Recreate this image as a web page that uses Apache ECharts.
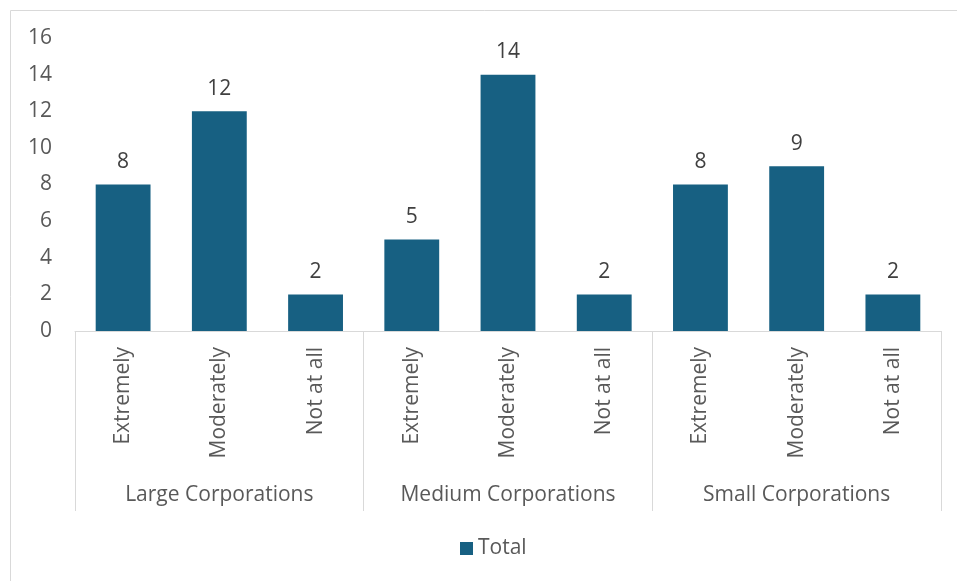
<!DOCTYPE html>
<html>
<head>
<meta charset="utf-8">
<script src="https://cdn.jsdelivr.net/npm/echarts@6/dist/echarts.min.js"></script>
<style>
	html, body { margin: 0; padding: 0; background: #fff; }
	#chart { width: 957px; height: 581px; }
</style>
</head>
<body>
<div id="chart"></div>
<script>
const groups = ['Large Corporations', 'Medium Corporations', 'Small Corporations']
const levels = ['Extremely', 'Moderately', 'Not at all']
const totals = [8, 12, 2, 5, 14, 2, 8, 9, 2]
const yTicks = [0, 2, 4, 6, 8, 10, 12, 14, 16]

const categories = groups.flatMap((g) => levels.map((l) => l))
const fontFamily = 'Open Sans, sans-serif'
const fontSize = 21

var chart = echarts.init(document.getElementById('chart'))

const option = {
	animation: false,
	textStyle: { fontFamily: fontFamily },
	graphic: [
		{
			type: 'rect',
			shape: { x: 10.5, y: 10.5, width: 960, height: 600 },
			style: { fill: 'none', stroke: '#d9d9d9', lineWidth: 1 },
			silent: true,
		},
	],
	grid: { left: 75, right: 16, top: 38, bottom: 250, containLabel: false },
	legend: {
		left: 455,
		top: 533,
		itemWidth: 13,
		itemHeight: 13,
		icon: 'rect',
		textStyle: { color: '#595959', fontSize: fontSize, fontFamily: fontFamily },
		data: ['Total'],
	},
	xAxis: [
		{
			type: 'category',
			data: categories,
			axisLine: { show: true, lineStyle: { color: '#d9d9d9', width: 1 } },
			axisTick: { show: false },
			axisLabel: {
				rotate: 90,
				margin: 16,
				color: '#595959',
				fontSize: fontSize,
				fontFamily: fontFamily,
				interval: 0,
			},
		},
		{
			type: 'category',
			data: groups,
			position: 'bottom',
			axisLine: { show: false },
			axisTick: { show: true, length: 180, lineStyle: { color: '#d9d9d9', width: 1 } },
			axisLabel: {
				margin: 154,
				color: '#595959',
				fontSize: fontSize,
				fontFamily: fontFamily,
				interval: 0,
			},
		},
	],
	yAxis: {
		type: 'value',
		min: yTicks[0],
		max: yTicks[yTicks.length - 1],
		interval: 2,
		axisLine: { show: false },
		axisTick: { show: false },
		splitLine: { show: false },
		axisLabel: { color: '#595959', fontSize: fontSize, fontFamily: fontFamily, margin: 23 },
	},
	series: [
		{
			name: 'Total',
			type: 'bar',
			xAxisIndex: 0,
			data: totals,
			barWidth: '57%',
			itemStyle: { color: '#176082' },
			label: {
				show: true,
				position: 'top',
				distance: 12,
				color: '#404040',
				fontSize: fontSize,
				fontFamily: fontFamily,
			},
		},
	],
}

chart.setOption(option)
</script>
</body>
</html>
